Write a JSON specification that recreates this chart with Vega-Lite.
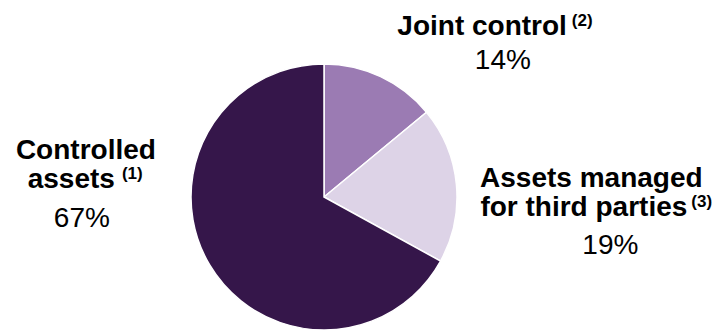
{
  "$schema": "https://vega.github.io/schema/vega-lite/v6.json",
  "autosize": {"type": "none"},
  "width": 648,
  "height": 266,
  "padding": {"left": 0, "top": 64, "right": 72, "bottom": 0},
  "background": "white",
  "config": {"view": {"stroke": null}, "text": {"font": "Liberation Sans", "color": "#000000"}},
  "data": {"values": [
    {"name": "Joint control", "value": 14, "title1": "Joint control", "title2": "", "sup": "(2)", "pct": "14%"},
    {"name": "Assets managed for third parties", "value": 19, "title1": "Assets managed", "title2": "for third parties", "sup": "(3)", "pct": "19%"},
    {"name": "Controlled assets", "value": 67, "title1": "Controlled", "title2": "assets", "sup": "(1)", "pct": "67%"}
  ]},
  "encoding": {
    "theta": {"field": "value", "type": "quantitative", "stack": true},
    "order": {"field": "value", "type": "quantitative", "sort": "ascending"}
  },
  "layer": [
    {
      "mark": {"type": "arc", "stroke": "white", "strokeWidth": 1.5},
      "encoding": {
        "color": {"field": "name", "type": "nominal", "legend": null,
          "scale": {"domain": ["Joint control", "Assets managed for third parties", "Controlled assets"], "range": ["#9B7BB3", "#DDD3E7", "#35164A"]}}
      }
    },
    {
      "mark": {"type": "text", "radius": 150, "fontSize": 28, "fontWeight": "bold", "align": "right", "baseline": "alphabetic", "dx": 179, "dy": -26},
      "encoding": {"text": {"condition": {"test": "datum.name === 'Joint control'", "field": "title1"}, "value": ""}}
    },
    {
      "mark": {"type": "text", "radius": 150, "fontSize": 17, "fontWeight": "bold", "align": "left", "baseline": "alphabetic", "dx": 184, "dy": -35},
      "encoding": {"text": {"condition": {"test": "datum.name === 'Joint control'", "field": "sup"}, "value": ""}}
    },
    {
      "mark": {"type": "text", "radius": 150, "fontSize": 28, "align": "center", "baseline": "alphabetic", "dx": 115, "dy": 8},
      "encoding": {"text": {"condition": {"test": "datum.name === 'Joint control'", "field": "pct"}, "value": ""}}
    },
    {
      "mark": {"type": "text", "radius": 150, "fontSize": 28, "fontWeight": "bold", "align": "center", "baseline": "alphabetic", "dx": 118, "dy": 4},
      "encoding": {"text": {"condition": {"test": "datum.name === 'Assets managed for third parties'", "field": "title1"}, "value": ""}}
    },
    {
      "mark": {"type": "text", "radius": 150, "fontSize": 28, "fontWeight": "bold", "align": "right", "baseline": "alphabetic", "dx": 214, "dy": 33},
      "encoding": {"text": {"condition": {"test": "datum.name === 'Assets managed for third parties'", "field": "title2"}, "value": ""}}
    },
    {
      "mark": {"type": "text", "radius": 150, "fontSize": 17, "fontWeight": "bold", "align": "left", "baseline": "alphabetic", "dx": 218, "dy": 24},
      "encoding": {"text": {"condition": {"test": "datum.name === 'Assets managed for third parties'", "field": "sup"}, "value": ""}}
    },
    {
      "mark": {"type": "text", "radius": 150, "fontSize": 28, "align": "center", "baseline": "alphabetic", "dx": 137, "dy": 71},
      "encoding": {"text": {"condition": {"test": "datum.name === 'Assets managed for third parties'", "field": "pct"}, "value": ""}}
    },
    {
      "mark": {"type": "text", "radius": 150, "fontSize": 28, "fontWeight": "bold", "align": "center", "baseline": "alphabetic", "dx": -109, "dy": -114},
      "encoding": {"text": {"condition": {"test": "datum.name === 'Controlled assets'", "field": "title1"}, "value": ""}}
    },
    {
      "mark": {"type": "text", "radius": 150, "fontSize": 28, "fontWeight": "bold", "align": "right", "baseline": "alphabetic", "dx": -80, "dy": -85},
      "encoding": {"text": {"condition": {"test": "datum.name === 'Controlled assets'", "field": "title2"}, "value": ""}}
    },
    {
      "mark": {"type": "text", "radius": 150, "fontSize": 17, "fontWeight": "bold", "align": "left", "baseline": "alphabetic", "dx": -73, "dy": -94},
      "encoding": {"text": {"condition": {"test": "datum.name === 'Controlled assets'", "field": "sup"}, "value": ""}}
    },
    {
      "mark": {"type": "text", "radius": 150, "fontSize": 28, "align": "center", "baseline": "alphabetic", "dx": -113, "dy": -46},
      "encoding": {"text": {"condition": {"test": "datum.name === 'Controlled assets'", "field": "pct"}, "value": ""}}
    }
  ]
}
